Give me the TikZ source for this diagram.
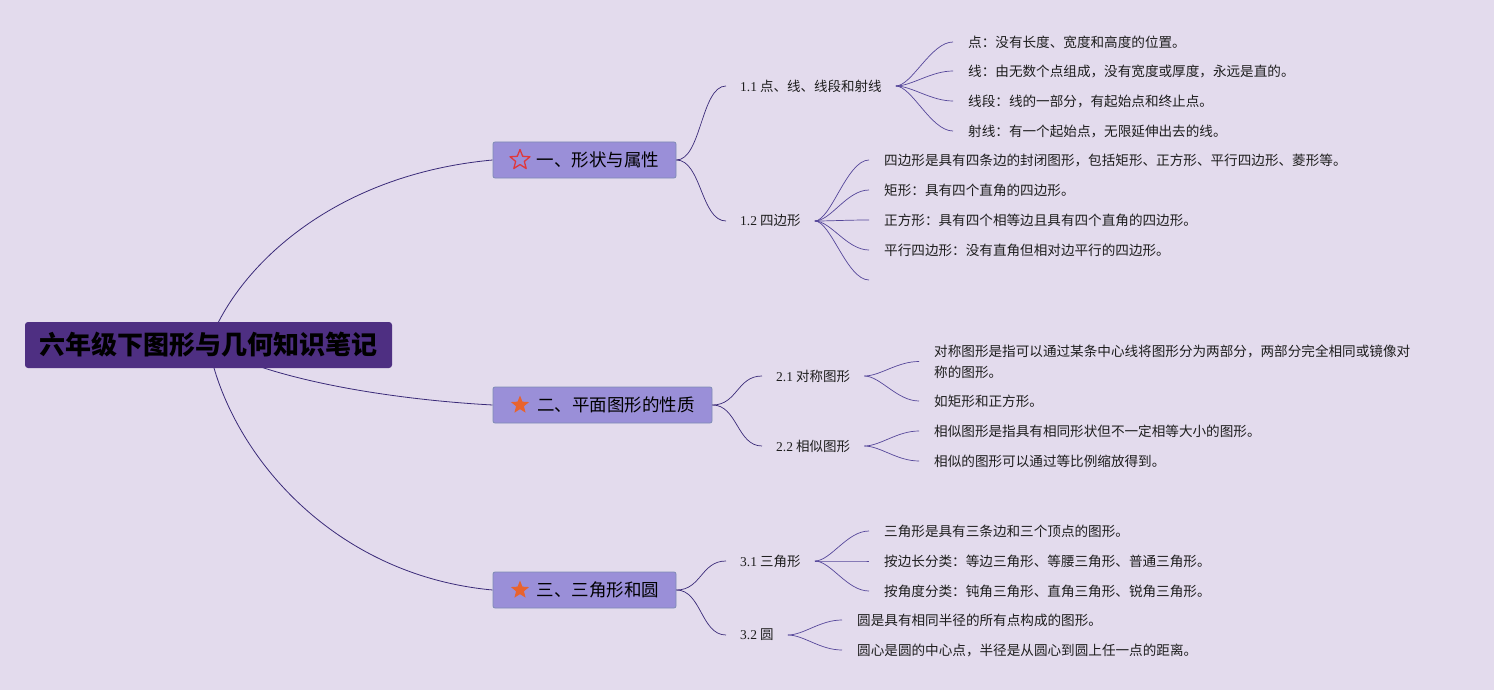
\documentclass[tikz,border=0pt]{standalone}
\usepackage{fontspec}
\setmainfont{Noto Sans CJK SC}
\newfontfamily\numfont{Liberation Serif}
\usetikzlibrary{shapes.geometric,backgrounds}
\definecolor{bg}{HTML}{E3DBED}
\definecolor{rootfill}{HTML}{4E2F82}
\definecolor{topicfill}{HTML}{9A8FD8}
\definecolor{topicdraw}{HTML}{7F8CB5}
\definecolor{lineA}{HTML}{3A2A78}
\definecolor{lineB}{HTML}{55469A}
\definecolor{txt}{HTML}{1E1E1E}
\definecolor{starred}{HTML}{E0383C}
\definecolor{starorange}{HTML}{E8632E}
\begin{document}
\begin{tikzpicture}[x=1pt,y=-1pt,
  rootbox/.style={fill=rootfill, rounded corners=3pt, minimum width=367pt, minimum height=46pt, inner sep=0pt, font=\fontsize{26}{30}\selectfont\bfseries, text=black},
  topicbox/.style={fill=topicfill, draw=topicdraw, line width=0.8pt, rounded corners=2pt, minimum height=36pt, inner sep=0pt, font=\fontsize{17.5}{21}\selectfont, text=black},
  startopic/.style={star, star points=5, star point ratio=2.3, minimum size=19pt, inner sep=0pt},
  subnode/.style={anchor=west, inner xsep=14pt, inner ysep=2pt, font=\fontsize{13.5}{16}\selectfont, text=txt},
  leafnode/.style={anchor=west, inner xsep=15pt, inner ysep=2pt, font=\fontsize{13.6}{21}\selectfont, text=txt, align=left},
  rootline/.style={draw=lineA, line width=0.8pt},
  subline/.style={draw=lineA, line width=0.7pt},
  leafline/.style={draw=lineB, line width=0.7pt}
]
\useasboundingbox (0,0) rectangle (1494,690);
% root and topics
\node[rootbox] (root) at (208.5,345) {六年级下图形与几何知识笔记};
\node[topicbox, minimum width=183pt] (t1) at (584.5,160) {\hspace*{27pt}一、形状与属性};
\node[topicbox, minimum width=219pt] (t2) at (602.5,405) {\hspace*{27pt}二、平面图形的性质};
\node[topicbox, minimum width=183pt] (t3) at (584.5,590) {\hspace*{27pt}三、三角形和圆};
\node[startopic, draw=starred, line width=1.3pt, line join=round, minimum size=21pt] (st1) at (520,160) {};
\node[startopic, fill=starorange] (st2) at (520,405) {};
\node[startopic, fill=starorange] (st3) at (520,590) {};
% subtopics
\node[subnode] (s11) at (726,86) {{\numfont 1.1} 点、线、线段和射线};
\node[subnode] (s12) at (726,221) {{\numfont 1.2} 四边形};
\node[subnode] (s21) at (762,376) {{\numfont 2.1} 对称图形};
\node[subnode] (s22) at (762,446) {{\numfont 2.2} 相似图形};
\node[subnode] (s31) at (726,561) {{\numfont 3.1} 三角形};
\node[subnode] (s32) at (726,635) {{\numfont 3.2} 圆};
% leaves
\node[leafnode] (l111) at (953,42) {点：没有长度、宽度和高度的位置。};
\node[leafnode] (l112) at (953,71) {线：由无数个点组成，没有宽度或厚度，永远是直的。};
\node[leafnode] (l113) at (953,101) {线段：线的一部分，有起始点和终止点。};
\node[leafnode] (l114) at (953,131) {射线：有一个起始点，无限延伸出去的线。};
\node[leafnode] (l121) at (869,160) {四边形是具有四条边的封闭图形，包括矩形、正方形、平行四边形、菱形等。};
\node[leafnode] (l122) at (869,190) {矩形：具有四个直角的四边形。};
\node[leafnode] (l123) at (869,220) {正方形：具有四个相等边且具有四个直角的四边形。};
\node[leafnode] (l124) at (869,250) {平行四边形：没有直角但相对边平行的四边形。};
\coordinate (l125) at (869,280);
\node[leafnode] (l211) at (919,361.5) {对称图形是指可以通过某条中心线将图形分为两部分，两部分完全相同或镜像对\\称的图形。};
\node[leafnode] (l212) at (919,401) {如矩形和正方形。};
\node[leafnode] (l221) at (919,431) {相似图形是指具有相同形状但不一定相等大小的图形。};
\node[leafnode] (l222) at (919,461) {相似的图形可以通过等比例缩放得到。};
\node[leafnode] (l311) at (869,531) {三角形是具有三条边和三个顶点的图形。};
\node[leafnode] (l312) at (869,561) {按边长分类：等边三角形、等腰三角形、普通三角形。};
\node[leafnode] (l313) at (869,591) {按角度分类：钝角三角形、直角三角形、锐角三角形。};
\node[leafnode] (l321) at (842,620) {圆是具有相同半径的所有点构成的图形。};
\node[leafnode] (l322) at (842,650) {圆心是圆的中心点，半径是从圆心到圆上任一点的距离。};
% connectors
\begin{scope}[on background layer]
\fill[bg] (0,0) rectangle (1494,690);
\draw[rootline] (root.center) .. controls (235,270) and (330,175) .. (t1.west);
\draw[rootline] (root.center) .. controls (275,382) and (400,400) .. (t2.west);
\draw[rootline] (root.center) .. controls (228,450) and (330,575) .. (t3.west);
\end{scope}
\foreach \a/\b in {t1/s11, t1/s12, t2/s21, t2/s22, t3/s31, t3/s32}
  \draw[subline] (\a.east) .. controls +(25,0) and +(-25,0) .. (\b.west);
\foreach \a/\b in {s11/l111, s11/l112, s11/l113, s11/l114, s12/l121, s12/l122, s12/l123, s12/l124, s21/l211, s21/l212, s22/l221, s22/l222, s31/l311, s31/l312, s31/l313, s32/l321, s32/l322}
  \draw[leafline] (\a.east) .. controls +(16,0) and +(-22,0) .. (\b.west);
\draw[leafline] (s12.east) .. controls +(16,0) and +(-22,0) .. (l125);
\end{tikzpicture}
\end{document}
